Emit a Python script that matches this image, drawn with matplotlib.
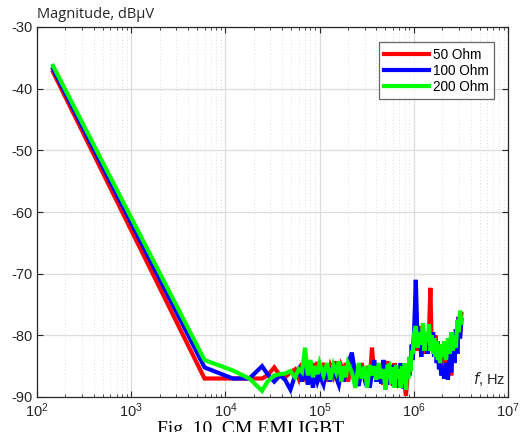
import matplotlib
matplotlib.use("Agg")
import matplotlib.pyplot as plt
from matplotlib.ticker import LogLocator, NullFormatter, FixedLocator

# frequency sweep, Hz (shared by all three measurements)
freq_hz = [
    148, 6.0e3, 1.2e4, 1.8e4, 2.45e4, 2.8e4, 3.3e4, 3.8e4, 4.3e4, 4.9e4,
    5.5e4, 6.0e4, 6.5e4, 7.0e4, 7.5e4, 8.0e4, 8.5e4, 9.0e4, 9.5e4, 1.0e5,
    1.1e5, 1.2e5, 1.3e5, 1.4e5, 1.5e5, 1.6e5, 1.7e5, 1.8e5, 1.9e5, 2.0e5,
    2.2e5, 2.4e5, 2.6e5, 2.8e5, 3.0e5, 3.2e5, 3.4e5, 3.6e5, 3.8e5, 4.0e5,
    4.25e5, 4.5e5, 4.75e5, 5.0e5, 5.25e5, 5.5e5, 5.75e5, 6.0e5, 6.25e5, 6.5e5,
    6.75e5, 7.0e5, 7.25e5, 7.5e5, 7.75e5, 8.0e5, 8.25e5, 8.5e5, 8.75e5, 9.0e5,
    9.25e5, 9.5e5, 9.75e5, 1.0e6,
    1.05e6, 1.1e6, 1.15e6, 1.2e6, 1.25e6, 1.3e6, 1.35e6, 1.4e6, 1.45e6, 1.5e6,
    1.55e6, 1.6e6, 1.65e6, 1.7e6, 1.75e6, 1.8e6, 1.85e6, 1.9e6, 1.95e6, 2.0e6,
    2.1e6, 2.2e6, 2.3e6, 2.4e6, 2.5e6, 2.6e6, 2.7e6, 2.8e6, 2.9e6, 3.0e6,
    3.1e6, 3.2e6,
]

mag_50 = [
    -37.3, -87, -87, -87, -87, -86.5, -85.2, -86.5, -86.8, -86,
    -85.5, -87, -84.5, -86.5, -85, -87.5, -84.5, -86.8, -84.3, -87,
    -84.5, -87.5, -85, -86.5, -84.2, -87.8, -85, -86, -84.5, -87.5,
    -84.8, -86.5, -88, -84.5, -86.8, -85, -87.5, -82, -86.5, -84.5,
    -87, -84.8, -88, -85.5, -84.2, -87.5, -86, -88.2, -84.5, -87,
    -85.5, -88.5, -86, -87, -84.8, -88, -89.8, -87.5, -85, -86.5,
    -83.5, -84, -82, -80.5,
    -79, -82.5, -78.5, -81.5, -79, -83, -80, -82, -79.5, -72.3,
    -82, -79.5, -83, -80, -83.5, -81, -84.5, -81.5, -84, -82,
    -85.5, -83, -86, -84, -86.5, -81, -84, -79, -82, -77,
    -80, -76.5,
]

mag_100 = [
    -36.8, -85.2, -87, -87, -85, -86.3, -87.5, -86.5, -87.2, -88.8,
    -86.5, -85.5, -87.5, -85, -88, -86, -88.5, -85.8, -87.5, -86.5,
    -88, -85, -87.5, -84.5, -86.8, -88, -85.5, -87.5, -86, -84.8,
    -82.8, -86.5, -88.2, -85, -87, -85.5, -88.5, -86.2, -84, -87.5,
    -85.5, -87.8, -84, -86.5, -88, -85, -87.5, -84.8, -86.8, -88.5,
    -85.5, -87, -84.5, -87.5, -88.6, -86, -88, -84.5, -86.5, -83.5,
    -85, -81.5, -84, -81,
    -71, -82, -79, -83.5, -80, -81.5, -79.5, -83, -80.5, -81,
    -82.5, -79.5, -83.5, -81, -84.5, -82, -85.5, -83, -86.5, -85,
    -87, -84.5, -87.2, -83, -86, -80, -84.5, -79, -83, -77,
    -80.5, -77.5,
]

mag_200 = [
    -36.3, -84, -85.7, -87, -89, -87.5, -86.5, -86.3, -86.2, -85.8,
    -86.8, -85.5, -86, -82, -86.5, -84, -86.8, -85, -86.3, -84.5,
    -86.5, -84.5, -87.2, -84.8, -86, -84.2, -87.5, -85, -86.8, -84.5,
    -86, -88.5, -84.5, -87, -85, -88.5, -84.8, -86.5, -85, -87.2,
    -84.5, -87, -85.5, -88.8, -85, -84.8, -87.8, -85.2, -88.5, -84.8,
    -87, -85.5, -88.5, -85, -87.8, -84.5, -88.8, -84.8, -87, -83.5,
    -85.8, -82.5, -83, -80,
    -78.5, -82, -79.5, -81.5, -78, -82.5, -79.5, -81, -78.2, -82.5,
    -80, -83, -80.5, -83.5, -81, -84, -82, -84.5, -81.5, -83.5,
    -81, -84, -80.5, -83, -79.5, -82.5, -80, -82, -77.5, -79.5,
    -76, -78,
]

series_labels = ["50 Ohm", "100 Ohm", "200 Ohm"]
series_colors = ["#ff0000", "#0000ff", "#00ff00"]

plt.rcParams["font.family"] = ["Liberation Sans", "DejaVu Sans"]
plt.rcParams["axes.unicode_minus"] = False

fig = plt.figure(figsize=(5.21, 4.32), dpi=100)
ax = fig.add_axes([37 / 521, 1 - 397 / 432, 471 / 521, 370 / 432])

for values, label, color in zip([mag_50, mag_100, mag_200], series_labels, series_colors):
    ax.plot(freq_hz, values, color=color, lw=3.0, label=label, solid_joinstyle="miter")

ax.set_xscale("log")
ax.set_xlim(1e2, 1e7)
ax.set_ylim(-90, -30)
ax.xaxis.set_major_locator(FixedLocator([1e2, 1e3, 1e4, 1e5, 1e6, 1e7]))
ax.xaxis.set_minor_locator(LogLocator(base=10, subs=range(2, 10)))
ax.xaxis.set_minor_formatter(NullFormatter())
ax.set_yticks([-90, -80, -70, -60, -50, -40, -30])

ax.grid(True, which="major", color="#dcdcdc", lw=0.9, ls="-")
ax.grid(True, which="minor", axis="x", color="#d4d4d4", lw=0.6, ls=(0, (1, 3)))
ax.set_axisbelow(True)

for side in ["top", "right", "bottom", "left"]:
    ax.spines[side].set_color("#262626")
    ax.spines[side].set_linewidth(0.9)
ax.tick_params(which="both", direction="in", top=True, right=True, colors="#262626",
               labelsize=10.5, labelcolor="#262626")
ax.tick_params(which="major", length=4)
ax.tick_params(which="minor", length=2.5)
ax.tick_params(axis="x", which="major", pad=3)

leg = ax.legend(loc="upper right", bbox_to_anchor=(0.98, 0.97), fontsize=9.8,
                frameon=True, fancybox=False, handlelength=3.3, handletextpad=0.3,
                borderpad=0.4, labelspacing=0.15, borderaxespad=0.3)
leg.get_frame().set_edgecolor("#404040")
leg.get_frame().set_linewidth(0.9)

ax.text(0.995, 0.025, "$f$, Hz", transform=ax.transAxes, ha="right", va="bottom",
        fontsize=10.5, color="#262626")
fig.text(37 / 521, 1 - 15 / 432, "Magnitude, dBμV", ha="left", va="center",
         fontsize=10.5, color="#262626", family=["Open Sans", "DejaVu Sans"])
fig.text(0.48, 1 - 421 / 432, "Fig. 10. CM EMI IGBT", ha="center", va="top",
         fontsize=14, family=["Liberation Serif", "DejaVu Serif"])

fig.savefig("out.png", dpi=100)
